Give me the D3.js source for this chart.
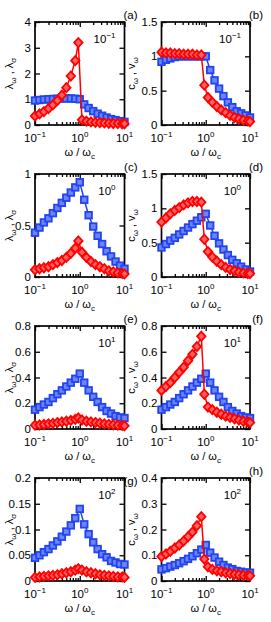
<!DOCTYPE html>
<html lang="en">
<head>
<meta charset="UTF-8">
<title>lambda / c, v versus omega / omega_c</title>
<script src="https://d3js.org/d3.v7.min.js"></script>
<style>
    body { margin: 0; background: #fff; }
    svg { display: block; font-family: "Liberation Sans", Arial, sans-serif; }
    .tick line { stroke: #000; stroke-width: 1.3px; }
</style>
</head>
<body>
<svg width="271" height="622"></svg>
<script>
    // omega / omega_c sample points
    const xBlue = [0.1, 0.126, 0.158, 0.2, 0.251, 0.316, 0.398, 0.501, 0.631, 0.794, 1,
                   1.26, 1.58, 2, 2.51, 3.16, 3.98, 5.01, 6.31, 7.94, 10];
    const xRed  = [0.1, 0.126, 0.158, 0.2, 0.251, 0.316, 0.398, 0.501, 0.631, 0.794, 0.93,
                   1.12, 1.41, 1.78, 2.24, 2.82, 3.55, 4.47, 5.62, 7.08, 8.91, 10];

    // row 1 (10^-1)
    const blueA = [0.95, 0.97, 0.99, 1.0, 1.01, 1.02, 1.03, 1.03, 1.03, 1.02, 1.0,
                   0.8, 0.66, 0.54, 0.44, 0.36, 0.29, 0.23, 0.19, 0.15, 0.12];
    const redA  = [0.35, 0.43, 0.52, 0.64, 0.78, 0.95, 1.16, 1.45, 1.9, 2.5, 3.2,
                   0.2, 0.15, 0.12, 0.1, 0.09, 0.08, 0.07, 0.06, 0.06, 0.05, 0.05];
    const blueB = [0.92, 0.95, 0.97, 0.99, 1.0, 1.0, 1.0, 1.0, 1.0, 1.0, 1.0,
                   0.8, 0.65, 0.53, 0.42, 0.33, 0.26, 0.2, 0.17, 0.14, 0.11];
    const redB  = [1.06, 1.05, 1.05, 1.04, 1.04, 1.03, 1.03, 1.03, 1.02, 1.02, 0.58,
                   0.4, 0.33, 0.27, 0.22, 0.18, 0.14, 0.11, 0.09, 0.07, 0.06, 0.05];

    // row 2 (10^0)
    const blueC = [0.43, 0.48, 0.53, 0.57, 0.62, 0.67, 0.72, 0.77, 0.82, 0.87, 0.92,
                   0.75, 0.6, 0.49, 0.4, 0.32, 0.25, 0.2, 0.15, 0.11, 0.08];
    const redC  = [0.07, 0.08, 0.09, 0.1, 0.12, 0.14, 0.16, 0.19, 0.23, 0.28, 0.35,
                   0.24, 0.19, 0.15, 0.12, 0.1, 0.08, 0.06, 0.05, 0.04, 0.035, 0.03];
    const blueD = blueC;
    const redD  = [0.8, 0.86, 0.92, 0.97, 1.01, 1.05, 1.08, 1.1, 1.1, 1.09, 0.55,
                   0.37, 0.29, 0.23, 0.18, 0.14, 0.11, 0.09, 0.07, 0.06, 0.05, 0.05];

    // row 3 (10^1)
    const blueE = [0.15, 0.17, 0.19, 0.21, 0.24, 0.27, 0.3, 0.33, 0.36, 0.39, 0.43,
                   0.36, 0.3, 0.25, 0.21, 0.17, 0.14, 0.12, 0.1, 0.09, 0.085];
    const redE  = [0.03, 0.032, 0.035, 0.04, 0.044, 0.05, 0.055, 0.06, 0.067, 0.075, 0.085,
                   0.07, 0.06, 0.055, 0.05, 0.045, 0.04, 0.036, 0.033, 0.03, 0.028, 0.025];
    const blueF = blueE;
    const redF  = [0.3, 0.33, 0.36, 0.4, 0.44, 0.48, 0.53, 0.58, 0.64, 0.72, 0.27,
                   0.17, 0.15, 0.13, 0.115, 0.1, 0.09, 0.08, 0.07, 0.06, 0.055, 0.05];

    // row 4 (10^2)
    const blueG = [0.045, 0.05, 0.056, 0.062, 0.069, 0.077, 0.086, 0.096, 0.108, 0.122, 0.14,
                   0.11, 0.091, 0.075, 0.062, 0.052, 0.046, 0.039, 0.036, 0.033, 0.032];
    const redG  = [0.007, 0.008, 0.009, 0.01, 0.011, 0.012, 0.014, 0.016, 0.018, 0.021, 0.024,
                   0.021, 0.018, 0.016, 0.014, 0.012, 0.011, 0.01, 0.009, 0.008, 0.008, 0.007];
    const blueH = blueG;
    const redH  = [0.095, 0.105, 0.115, 0.128, 0.14, 0.155, 0.172, 0.19, 0.215, 0.25, 0.085,
                   0.055, 0.045, 0.04, 0.036, 0.032, 0.029, 0.026, 0.024, 0.022, 0.021, 0.02];

    // axis ticks
    const xMajor = [0.1, 1, 10];
    const xMajorExp = ["-1", "0", "1"];
    const yTicksA = [0, 1, 2, 3, 4];
    const yTicksB = [0, 0.5, 1, 1.5];
    const yTicksC = [0, 0.5, 1];
    const yTicksE = [0, 0.2, 0.4, 0.6, 0.8];
    const yTicksG = [0, 0.05, 0.1, 0.15, 0.2];
    const yTicksH = [0, 0.1, 0.2, 0.3, 0.4];

    const panels = [
        { tag: "(a)", col: 0, row: 0, yTicks: yTicksA, blue: blueA, red: redA, exp: "-1" },
        { tag: "(b)", col: 1, row: 0, yTicks: yTicksB, blue: blueB, red: redB, exp: "-1" },
        { tag: "(c)", col: 0, row: 1, yTicks: yTicksC, blue: blueC, red: redC, exp: "0" },
        { tag: "(d)", col: 1, row: 1, yTicks: yTicksB, blue: blueD, red: redD, exp: "0" },
        { tag: "(e)", col: 0, row: 2, yTicks: yTicksE, blue: blueE, red: redE, exp: "1" },
        { tag: "(f)", col: 1, row: 2, yTicks: yTicksE, blue: blueF, red: redF, exp: "1" },
        { tag: "(g)", col: 0, row: 3, yTicks: yTicksG, blue: blueG, red: redG, exp: "2" },
        { tag: "(h)", col: 1, row: 3, yTicks: yTicksH, blue: blueH, red: redH, exp: "2" }
    ];

    const svg = d3.select("svg");
    const colX = [[35, 124.5], [161.5, 250]];
    const rowY = [22, 174, 326, 478];
    const plotH = 103;
    const blueColor = "#2143f2";
    const redColor = "#ff0000";

    const xMinor = [];
    [0.1, 1].forEach(d => { for (let m = 2; m <= 9; m++) xMinor.push(d * m); });

    function styleAxis(sel) {
        sel.select(".domain").remove();
        sel.selectAll("text").remove();
    }

    panels.forEach(p => {
        const [x0, x1] = colX[p.col];
        const top = rowY[p.row], bottom = top + plotH;
        const yMax = p.yTicks[p.yTicks.length - 1];
        const x = d3.scaleLog().domain([0.1, 10]).range([x0, x1]);
        const y = d3.scaleLinear().domain([0, yMax]).range([bottom, top]);
        const g = svg.append("g");

        // inward ticks on all four sides
        g.append("g").attr("transform", `translate(0,${bottom})`)
            .call(d3.axisBottom(x).tickValues(xMajor).tickSize(-5)).call(styleAxis);
        g.append("g").attr("transform", `translate(0,${bottom})`)
            .call(d3.axisBottom(x).tickValues(xMinor).tickSize(-3)).call(styleAxis);
        g.append("g").attr("transform", `translate(0,${top})`)
            .call(d3.axisTop(x).tickValues(xMajor).tickSize(-5)).call(styleAxis);
        g.append("g").attr("transform", `translate(0,${top})`)
            .call(d3.axisTop(x).tickValues(xMinor).tickSize(-3)).call(styleAxis);
        g.append("g").attr("transform", `translate(${x0},0)`)
            .call(d3.axisLeft(y).tickValues(p.yTicks).tickSize(-5)).call(styleAxis);
        g.append("g").attr("transform", `translate(${x1},0)`)
            .call(d3.axisRight(y).tickValues(p.yTicks).tickSize(-5)).call(styleAxis);

        // y tick labels
        g.selectAll(".ylab").data(p.yTicks).enter().append("text")
            .attr("x", x0 - 4).attr("y", d => y(d) + 4)
            .attr("text-anchor", "end").attr("font-size", 11.5)
            .text(d => String(+d.toFixed(3)));

        // x tick labels 10^n
        xMajor.forEach((v, i) => {
            const t = g.append("text").attr("x", x(v)).attr("y", bottom + 17)
                .attr("text-anchor", "middle").attr("font-size", 11.5);
            t.append("tspan").text("10");
            t.append("tspan").attr("dy", -5).attr("font-size", 8).text(xMajorExp[i].replace("-", "\u2212"));
        });

        // x title
        const xt = g.append("text").attr("x", (x0 + x1) / 2).attr("y", bottom + 31)
            .attr("text-anchor", "middle").attr("font-size", 11);
        xt.append("tspan").text("\u03c9 / \u03c9");
        xt.append("tspan").attr("dy", 3).attr("font-size", 8).text("c");

        // y title
        const ytx = p.col === 0 ? 13 : 135;
        const yt = g.append("text")
            .attr("transform", `translate(${ytx},${(top + bottom) / 2}) rotate(-90)`)
            .attr("text-anchor", "middle").attr("font-size", 11);
        const sym = p.col === 0 ? ["\u03bb", "\u03c9", "\u03bb", "\u03c3"] : ["c", "\u03c9", "v", "\u03c9"];
        yt.append("tspan").text(sym[0]);
        yt.append("tspan").attr("dy", 3).attr("font-size", 8).text(sym[1]);
        yt.append("tspan").attr("dy", -3).text(" , " + sym[2]);
        yt.append("tspan").attr("dy", 3).attr("font-size", 8).text(sym[3]);

        // frame
        g.append("rect").attr("x", x0).attr("y", top)
            .attr("width", x1 - x0).attr("height", plotH)
            .attr("fill", "none").attr("stroke", "#000").attr("stroke-width", 1.7);

        // inset parameter label
        const it = g.append("text").attr("x", x1 - 9).attr("y", top + 21)
            .attr("text-anchor", "end").attr("font-size", 11.5);
        it.append("tspan").text("10");
        it.append("tspan").attr("dy", -5).attr("font-size", 8).text(p.exp.replace("-", "\u2212"));

        // panel tag
        g.append("text").attr("x", x1 + 13).attr("y", p.tag === "(g)" ? top + 7 : top - 3)
            .attr("text-anchor", "end").attr("font-size", 11.5).text(p.tag);

        const blueData = xBlue.map((v, i) => [v, p.blue[i]]);
        const redData = xRed.map((v, i) => [v, p.red[i]]);
        const line = d3.line().x(d => x(d[0])).y(d => y(d[1]));

        // blue series: squares
        g.append("path").datum(blueData).attr("d", line)
            .attr("fill", "none").attr("stroke", blueColor).attr("stroke-width", 1.5);
        g.selectAll(".sq").data(blueData).enter().append("rect")
            .attr("x", d => x(d[0]) - 3.3).attr("y", d => y(d[1]) - 3.3)
            .attr("width", 6.6).attr("height", 6.6)
            .attr("fill", "#6d84f4").attr("stroke", blueColor).attr("stroke-width", 1.8);

        // red series: diamonds
        g.append("path").datum(redData).attr("d", line)
            .attr("fill", "none").attr("stroke", redColor).attr("stroke-width", 1.5);
        g.selectAll(".dm").data(redData).enter().append("path")
            .attr("d", d => {
                const cx = x(d[0]), cy = y(d[1]);
                return `M${cx},${cy - 4.6}L${cx + 4.2},${cy}L${cx},${cy + 4.6}L${cx - 4.2},${cy}Z`;
            })
            .attr("fill", "#ff6060").attr("stroke", redColor).attr("stroke-width", 1.8);
    });
</script>
</body>
</html>
